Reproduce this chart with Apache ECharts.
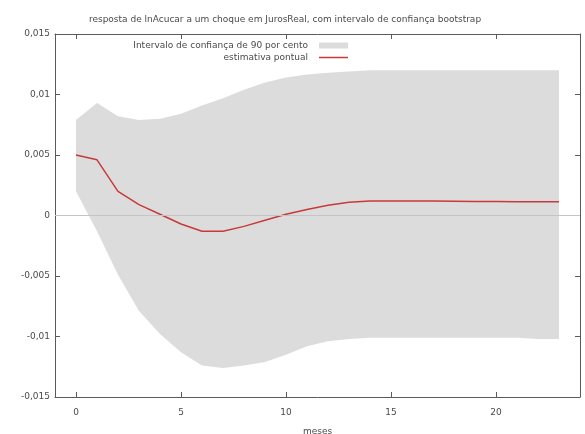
<!DOCTYPE html>
<html>
<head>
<meta charset="utf-8">
<script src="https://cdn.jsdelivr.net/npm/echarts@6/dist/echarts.min.js"></script>
<style>
  html, body { margin: 0; padding: 0; background: #fff; }
  #chart { width: 585px; height: 434px; }
</style>
</head>
<body>
<div id="chart"></div>
<script>
// Impulse response of lnAcucar to a JurosReal shock, horizon in months
const horizon = [0, 1, 2, 3, 4, 5, 6, 7, 8, 9, 10, 11, 12, 13, 14, 15, 16, 17, 18, 19, 20, 21, 22, 23];
const pointEstimate = [0.0050, 0.0046, 0.0020, 0.0009, 0.0001, -0.0007, -0.0013, -0.0013, -0.0009, -0.0004,
  0.0001, 0.0005, 0.00085, 0.0011, 0.0012, 0.0012, 0.0012, 0.0012, 0.00118, 0.00116, 0.00115, 0.00114, 0.00113, 0.00113];
const bandUpper = [0.0079, 0.0093, 0.0082, 0.0079, 0.0080, 0.0084, 0.0091, 0.0097, 0.0104, 0.0110,
  0.0114, 0.01165, 0.0118, 0.0119, 0.0120, 0.0120, 0.0120, 0.0120, 0.0120, 0.0120, 0.0120, 0.0120, 0.0120, 0.0120];
const bandLower = [0.0020, -0.0013, -0.0049, -0.0079, -0.0098, -0.0113, -0.0124, -0.0126, -0.0124, -0.0121,
  -0.0115, -0.0108, -0.0104, -0.0102, -0.0101, -0.0101, -0.0101, -0.0101, -0.0101, -0.0101, -0.0101, -0.0101, -0.0102, -0.0102];
const xTicks = [0, 5, 10, 15, 20];

const bandName = 'Intervalo de confiança de 90 por cento';
const lineName = 'estimativa pontual';
const font = 'DejaVu Sans';
const textColor = '#4a4a4a';
const frame = '#5a5a5a';
const bandColor = '#dcdcdc';
const lineColor = '#c83a3a';

const fmtY = v => {
  const r = Math.round(v * 1000) / 1000;
  return r === 0 ? '0' : String(r).replace('.', ',');
};

const chart = echarts.init(document.getElementById('chart'), null, { renderer: 'canvas' });

const baseX = {
  type: 'value', min: -1, max: 24,
  axisLine: { show: true, onZero: false, lineStyle: { color: frame, width: 1 } },
  axisTick: { show: true, inside: true, length: 5, customValues: xTicks, lineStyle: { color: frame } },
  splitLine: { show: false }
};
const baseY = {
  type: 'value', min: -0.015, max: 0.015, interval: 0.005,
  axisLine: { show: true, onZero: false, lineStyle: { color: frame, width: 1 } },
  axisTick: { show: true, inside: true, length: 5, lineStyle: { color: frame } },
  splitLine: { show: false }
};

// Confidence band: one closed polygon, upper edge forward then lower edge back
function renderBand(params, api) {
  if (params.dataIndex !== 0) return null;
  const pts = [];
  for (let i = 0; i < horizon.length; i++) pts.push(api.coord([horizon[i], bandUpper[i]]));
  for (let i = horizon.length - 1; i >= 0; i--) pts.push(api.coord([horizon[i], bandLower[i]]));
  return {
    type: 'polygon',
    shape: { points: pts, smooth: 0 },
    style: { fill: bandColor, stroke: null }
  };
}

const legendText = { fontFamily: font, fontSize: 9, color: textColor, padding: [0, 6, 0, 0] };

chart.setOption({
  animation: false,
  backgroundColor: '#fff',
  title: {
    text: 'resposta de lnAcucar a um choque em JurosReal, com intervalo de confiança bootstrap',
    left: 280, top: 10, textAlign: 'center',
    textStyle: { fontFamily: font, fontSize: 9, fontWeight: 'normal', color: textColor }
  },
  legend: [
    {
      data: [{ name: bandName, icon: 'rect' }],
      right: 237, top: 41, padding: 0, align: 'right', itemWidth: 29, itemHeight: 6,
      textStyle: legendText, selectedMode: false
    },
    {
      data: [{ name: lineName, icon: 'rect' }],
      right: 237, top: 53, padding: 0, align: 'right', itemWidth: 29, itemHeight: 1.5,
      textStyle: legendText, selectedMode: false
    }
  ],
  grid: { left: 55, right: 5, top: 34, bottom: 37, containLabel: false, outerBoundsMode: 'none' },
  xAxis: [
    Object.assign({}, baseX, {
      position: 'bottom',
      name: 'meses', nameLocation: 'middle', nameGap: 30,
      nameTextStyle: { fontFamily: font, fontSize: 9, color: textColor },
      axisLabel: { show: true, customValues: xTicks, margin: 11, fontFamily: font, fontSize: 9, color: textColor }
    }),
    Object.assign({}, baseX, { position: 'top', axisLabel: { show: false } })
  ],
  yAxis: [
    Object.assign({}, baseY, {
      position: 'left',
      axisLabel: { show: true, margin: 5, fontFamily: font, fontSize: 9, color: textColor, formatter: fmtY }
    }),
    Object.assign({}, baseY, { position: 'right', axisLabel: { show: false } })
  ],
  series: [
    {
      name: bandName, type: 'custom',
      data: horizon.map((h, i) => [h, bandLower[i], bandUpper[i]]),
      encode: { x: 0, y: [1, 2] },
      renderItem: renderBand,
      itemStyle: { color: bandColor },
      silent: true, z: 1
    },
    {
      name: lineName, type: 'line',
      data: horizon.map((h, i) => [h, pointEstimate[i]]),
      symbol: 'none', color: lineColor,
      lineStyle: { color: lineColor, width: 1.5 },
      z: 4,
      markLine: {
        silent: true, symbol: 'none', label: { show: false },
        lineStyle: { color: '#c4c4c4', width: 1, type: 'solid' },
        data: [{ yAxis: 0 }]
      }
    }
  ]
});
</script>
</body>
</html>
